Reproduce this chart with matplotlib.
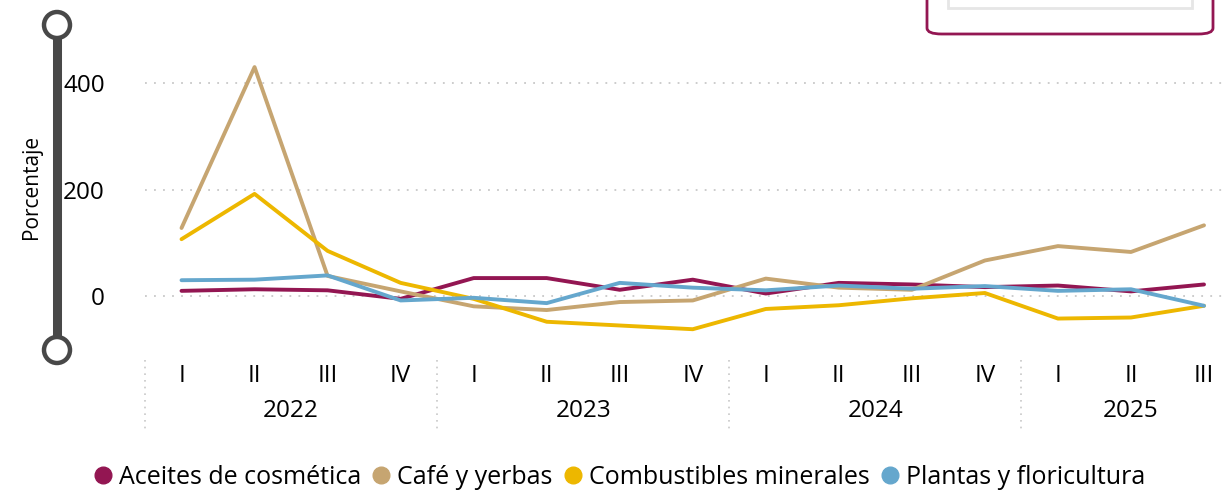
import matplotlib.pyplot as plt
from matplotlib.lines import Line2D
from matplotlib.patches import FancyBboxPatch, Rectangle, Circle
import matplotlib.transforms as mtransforms

plt.rcParams['font.family'] = ['Open Sans', 'DejaVu Sans']

# Trimestres 2022-I a 2025-III
quarters = ['I', 'II', 'III', 'IV'] * 3 + ['I', 'II', 'III']
years = ['2022', '2023', '2024', '2025']

aceites = [10, 13, 11, -5, 34, 34, 12, 31, 5, 25, 22, 17, 20, 9, 22]
cafe = [128, 430, 38, 9, -19, -26, -11, -8, 33, 16, 12, 67, 94, 83, 133]
combustibles = [107, 192, 85, 25, -5, -48, -55, -62, -24, -17, -4, 6, -42, -40, -18]
plantas = [30, 31, 39, -8, -3, -13, 25, 16, 11, 20, 14, 19, 10, 13, -18]

series = [
    ('Aceites de cosmética', aceites, '#931652'),
    ('Café y yerbas', cafe, '#C6A571'),
    ('Combustibles minerales', combustibles, '#EDB700'),
    ('Plantas y floricultura', plantas, '#65A7CD'),
]

FS = 17.5
W, H = 1223, 491
fig = plt.figure(figsize=(W / 100, H / 100), dpi=100)
ax = fig.add_axes([145 / W, 1 - 350 / H, 1 - 145 / W, 325 / H])

x = list(range(len(quarters)))
for name, vals, col in series:
    ax.plot(x, vals, color=col, lw=2.8, label=name, solid_capstyle='round', zorder=3)

ax.set_xlim(-0.5, 14.26)
ax.set_ylim(-101, 509)
ax.set_yticks([0, 200, 400])
ax.tick_params(axis='y', length=0, labelsize=FS, pad=29)
ax.set_xticks([])
ax.grid(axis='y', color='#c8c8c8', linestyle=(0, (1, 4)), lw=1.3)
for s in ax.spines.values():
    s.set_visible(False)

# x labels: quarters and years
tr = mtransforms.blended_transform_factory(ax.transData, fig.transFigure)
for i, q in enumerate(quarters):
    ax.text(i, 1 - 376 / H, q, transform=tr, ha='center', va='center', fontsize=FS)
for k, yr in enumerate(years):
    n = min(4, len(quarters) - 4 * k)
    ax.text(4 * k + (n - 1) / 2, 1 - 411 / H, yr, transform=tr, ha='center', va='center', fontsize=FS)
    ax.plot([4 * k - 0.5] * 2, [1 - 360 / H, 1 - 432 / H], transform=tr, color='#c8c8c8',
            linestyle=(0, (1, 3)), lw=1.2, clip_on=False)

# slider on the left
fig.add_artist(Line2D([57 / W, 57 / W], [1 - 25 / H, 1 - 350 / H], color='#484848', lw=6.5))
for yy in (25, 350):
    fig.add_artist(Circle((57, H - yy), 13, transform=None, facecolor='white',
                          edgecolor='#484848', lw=3.2, zorder=5))
fig.text(31 / W, 1 - 187 / H, 'Porcentaje', rotation=90, ha='center', va='center', fontsize=15)

# box in the top right corner
fig.add_artist(FancyBboxPatch((927 / W, 1 - 34 / H), 286 / W, 80 / H,
                              boxstyle='round,pad=0,rounding_size=0.012',
                              transform=fig.transFigure, facecolor='white',
                              edgecolor='#931652', lw=2))
fig.add_artist(Rectangle((948 / W, 1 - 8 / H), 244 / W, 40 / H, transform=fig.transFigure,
                         facecolor='white', edgecolor='#e6e6e6', lw=2))

handles = [Line2D([], [], marker='o', ls='', markersize=12, color=c) for _, _, c in series]
fig.legend(handles, [n for n, _, _ in series], loc='center', bbox_to_anchor=(0.504, 1 - 477 / H),
           ncol=4, frameon=False, fontsize=18, handletextpad=0.05, columnspacing=0.2,
           handlelength=1.2)

fig.savefig('out.png', dpi=100)
